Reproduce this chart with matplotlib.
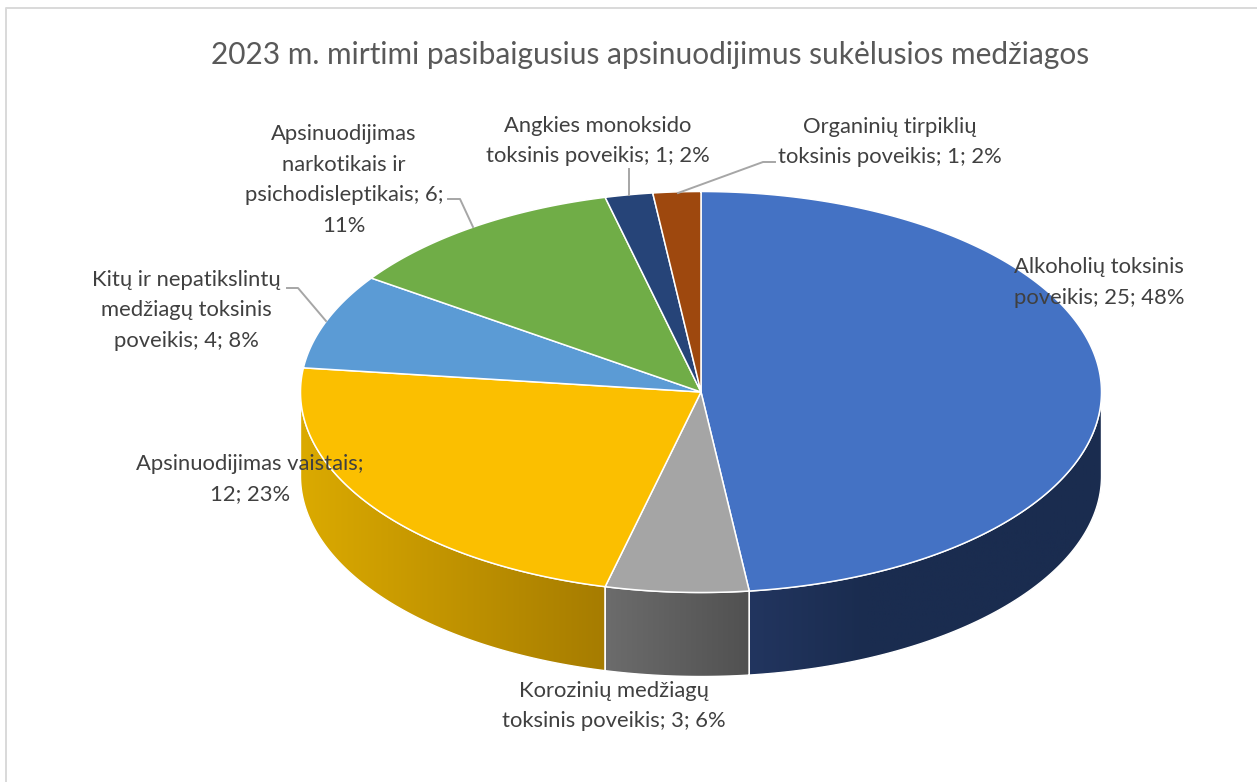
import numpy as np
import matplotlib
matplotlib.use('Agg')
import matplotlib.pyplot as plt
from matplotlib.colors import LinearSegmentedColormap
from matplotlib.patches import Polygon

title = '2023 m. mirtimi pasibaigusius apsinuodijimus sukėlusios medžiagos'
values = [25, 3, 12, 4, 6, 1, 1]
percents = [48, 6, 23, 8, 11, 2, 2]  # as printed on the chart
# label text for each slice, {} gets filled with value and percent
label_templates = [
    'Alkoholių toksinis\npoveikis; {}; {}%',
    'Korozinių medžiagų\ntoksinis poveikis; {}; {}%',
    'Apsinuodijimas vaistais;\n{}; {}%',
    'Kitų ir nepatikslintų\nmedžiagų toksinis\npoveikis; {}; {}%',
    'Apsinuodijimas\nnarkotikais ir\npsichodisleptikais; {};\n{}%',
    'Angkies monoksido\ntoksinis poveikis; {}; {}%',
    'Organinių tirpiklių\ntoksinis poveikis; {}; {}%',
]
top_colors = ['#4472c4', '#a5a5a5', '#fbbf00', '#5b9bd5', '#70ad47', '#264478', '#9e480e']
side_colors = [
    ['#22355f', '#1a2c4f', '#1a2c4f', '#1a2c4f'],
    ['#6c6c6c', '#515151'],
    ['#dbaa00', '#a67c00'],
]
label_centers = [(1099, 282.5), (614, 706), (250, 479), (186, 310.5), (344, 180), (598, 141), (890, 142)]
leaders = [
    [(448, 199), (460, 199), (473, 227)],
    [(287, 288), (298, 288), (326, 321)],
    [(629, 169), (629, 195)],
    [(775, 162), (763, 162), (678, 193)],
]

W, H = 1257, 782
cx, cy = 701, 392  # centre of the top ellipse, in pixels
rx, ry = 400.5, 200.5
depth = 84
text_color = '#404040'
font = 'Lato'

def arc(t0, t1, dy=0):  # points on the ellipse, angle clockwise from the top
    t = np.radians(np.linspace(t0, t1, 300))
    return np.column_stack([cx + rx * np.sin(t), cy - ry * np.cos(t) + dy])

fig = plt.figure(figsize=(W / 100, H / 100), dpi=100)
ax = fig.add_axes([0, 0, 1, 1])

edges = np.cumsum([0] + values) / sum(values) * 360

# sides of the disc, only the front half can be seen
for i, cols in enumerate(side_colors):
    a = max(edges[i], 90)
    b = min(edges[i + 1], 270)
    pts = np.vstack([arc(a, b), arc(b, a, depth)])
    patch = Polygon(pts, closed=True, fc='none', ec='none')
    ax.add_patch(patch)
    cmap = LinearSegmentedColormap.from_list('side%d' % i, cols)
    x0, x1 = sorted([pts[:, 0].min(), pts[:, 0].max()])
    im = ax.imshow(np.linspace(0, 1, 256).reshape(1, -1), cmap=cmap, aspect='auto',
                   extent=[x0, x1, pts[:, 1].max(), pts[:, 1].min()], zorder=1)
    im.set_clip_path(patch)
    # white seam round the side
    ax.add_patch(Polygon(pts, closed=True, fc='none', ec='white', lw=1.0, zorder=2))

# top of the disc
for i, col in enumerate(top_colors):
    pts = np.vstack([[(cx, cy)], arc(edges[i], edges[i + 1])])
    ax.add_patch(Polygon(pts, closed=True, fc=col, ec='white', lw=1.1, joinstyle='round', zorder=3))

for line in leaders:
    xs, ys = zip(*line)
    ax.plot(xs, ys, color='#a6a6a6', lw=1.4, zorder=4)

for tmpl, v, p, (x, y) in zip(label_templates, values, percents, label_centers):
    ax.text(x, y, tmpl.format(v, p), ha='center', va='center', fontsize=15.8, family=font,
            color=text_color, linespacing=1.68, zorder=5)

ax.text(650, 55, title, ha='center', va='center', fontsize=21.5, family=font, color='#595959', zorder=5)

# chart frame, cut off on the right and at the bottom
ax.plot([6, 6, W], [H, 8, 8], color='#d9d9d9', lw=1.4, zorder=0)

ax.set_xlim(0, W)
ax.set_ylim(H, 0)
ax.axis('off')

fig.savefig('out.png', dpi=100, facecolor='white')
